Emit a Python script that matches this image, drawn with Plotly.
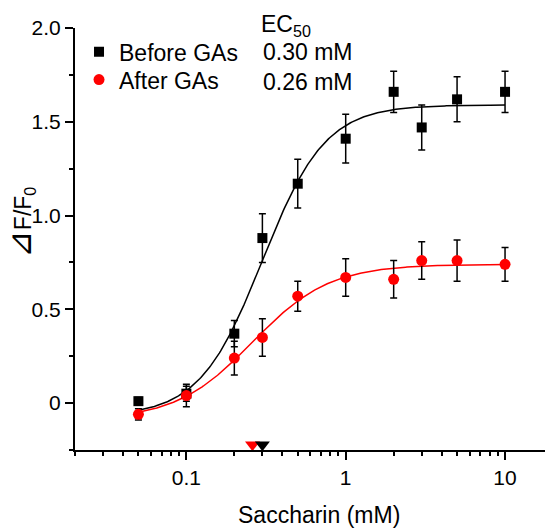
import numpy as np
import plotly.graph_objects as go

# ---- data ----
conc = [0.05, 0.1, 0.2, 0.3, 0.5, 1, 2, 3, 5, 10]           # Saccharin (mM)
before_mean = [0.01, 0.05, 0.37, 0.88, 1.17, 1.41, 1.66, 1.47, 1.62, 1.66]
before_err = [0.02, 0.04, 0.07, 0.13, 0.13, 0.13, 0.11, 0.12, 0.12, 0.11]
after_mean = [-0.06, 0.04, 0.24, 0.35, 0.57, 0.67, 0.66, 0.76, 0.76, 0.74]
after_err = [0.03, 0.06, 0.09, 0.10, 0.08, 0.10, 0.10, 0.10, 0.11, 0.09]

# Hill fit parameters (bottom, top, EC50, slope)
before_fit = dict(bottom=-0.07, top=1.59, ec50=0.30, n=2.2)
after_fit = dict(bottom=-0.09, top=0.74, ec50=0.26, n=1.8)
fit_range = [0.05, 10]

ec50_values = [0.30, 0.26]
ec50_labels = ["0.30 mM", "0.26 mM"]
series_names = ["Before GAs", "After GAs"]
series_colors = ["black", "red"]

x_major = [0.1, 1, 10]
x_major_text = ["0.1", "1", "10"]
x_minor = [0.02, 0.03, 0.04, 0.05, 0.06, 0.07, 0.08, 0.09,
           0.2, 0.3, 0.4, 0.5, 0.6, 0.7, 0.8, 0.9,
           2, 3, 4, 5, 6, 7, 8, 9, 20]
y_major = [0, 0.5, 1.0, 1.5, 2.0]
y_major_text = ["0", "0.5", "1.0", "1.5", "2.0"]
y_minor = [-0.25, 0.25, 0.75, 1.25, 1.75]


def hill(x, bottom, top, ec50, n):
    x = np.asarray(x)
    return bottom + (top - bottom) / (1 + (ec50 / x) ** n)


FONT = "Liberation Sans, Arial, sans-serif"
xs = np.logspace(np.log10(fit_range[0]), np.log10(fit_range[1]), 300)

fig = go.Figure()

for fit, col in [(before_fit, "black"), (after_fit, "red")]:
    fig.add_trace(go.Scatter(x=xs, y=hill(xs, **fit), mode="lines",
                             line=dict(color=col, width=1.5),
                             showlegend=False, hoverinfo="skip"))

fig.add_trace(go.Scatter(
    x=conc, y=before_mean, mode="markers", name=series_names[0],
    legend="legend",
    marker=dict(symbol="square", size=10, color="black"),
    error_y=dict(type="data", array=before_err, color="black",
                 thickness=1.5, width=3.5)))
fig.add_trace(go.Scatter(
    x=conc, y=after_mean, mode="markers", name=series_names[1],
    legend="legend2",
    marker=dict(symbol="circle", size=11, color="red"),
    error_y=dict(type="data", array=after_err, color="black",
                 thickness=1.5, width=3.5)))

# EC50 markers on the baseline
fig.add_trace(go.Scatter(
    x=ec50_values[::-1], y=[-0.222, -0.222], mode="markers",
    marker=dict(symbol="triangle-down", size=13,
                color=series_colors[::-1]),
    cliponaxis=False, showlegend=False, hoverinfo="skip"))

leg_common = dict(xanchor="left", yanchor="middle",
                  font=dict(size=23, family=FONT),
                  bgcolor="rgba(0,0,0,0)")

# page body has an 8px margin: shift the figure so the plot area lands
# on the same page pixels as the reference (x 75..553, y 25..450)
fig.update_layout(
    width=553, height=529,
    margin=dict(l=67, r=8, t=17, b=87),
    plot_bgcolor="white", paper_bgcolor="white",
    font=dict(family=FONT, color="black", size=21),
    showlegend=True,
    legend=dict(x=0.0084, y=1 - (49 - 25) / 425, **leg_common),
    legend2=dict(x=0.0084, y=1 - (77 - 25) / 425, **leg_common),
    xaxis=dict(type="log",
               range=[np.log10(0.02), np.log10(20)],
               showline=True, linecolor="black", linewidth=2,
               showgrid=False, zeroline=False,
               ticks="outside", ticklen=8, tickwidth=1.5, tickcolor="black",
               tickmode="array", tickvals=x_major, ticktext=x_major_text,
               tickfont=dict(size=21, family=FONT),
               minor=dict(ticks="outside", ticklen=4, tickwidth=1.5,
                          tickcolor="black", tickmode="array",
                          tickvals=x_minor, showgrid=False)),
    yaxis=dict(range=[-0.2505, 2.0005],
               showline=True, linecolor="black", linewidth=2,
               showgrid=False, zeroline=False,
               ticks="outside", ticklen=8, tickwidth=1.5, tickcolor="black",
               tickmode="array", tickvals=y_major, ticktext=y_major_text,
               tickfont=dict(size=21, family=FONT),
               minor=dict(ticks="outside", ticklen=4, tickwidth=1.5,
                          tickcolor="black", tickmode="array",
                          tickvals=y_minor, showgrid=False)),
)

annotations = [
    dict(text="Saccharin (mM)", x=0.51, y=-0.155, xref="paper", yref="paper",
         xanchor="center", yanchor="middle", showarrow=False,
         font=dict(size=23, family=FONT)),
    dict(text='<span style="font-size:33px">⊿</span>F/F<sub>0</sub>',
         x=-0.115, y=0.54, xref="paper", yref="paper",
         xanchor="center", yanchor="middle", showarrow=False, textangle=-90,
         font=dict(size=23, family=FONT)),
    dict(text="EC<sub>50</sub>", x=(259 - 75) / 478, y=1 - (22 - 25) / 425,
         xref="paper", yref="paper", xanchor="left", yanchor="middle",
         showarrow=False, font=dict(size=23, family=FONT)),
]
for i, lab in enumerate(ec50_labels):
    annotations.append(dict(text=lab, x=(261 - 75) / 478,
                            y=1 - (49 + 30 * i - 25) / 425,
                            xref="paper", yref="paper", xanchor="left",
                            yanchor="middle", showarrow=False,
                            font=dict(size=23, family=FONT)))
fig.update_layout(annotations=annotations)

fig.write_html("out.html")
